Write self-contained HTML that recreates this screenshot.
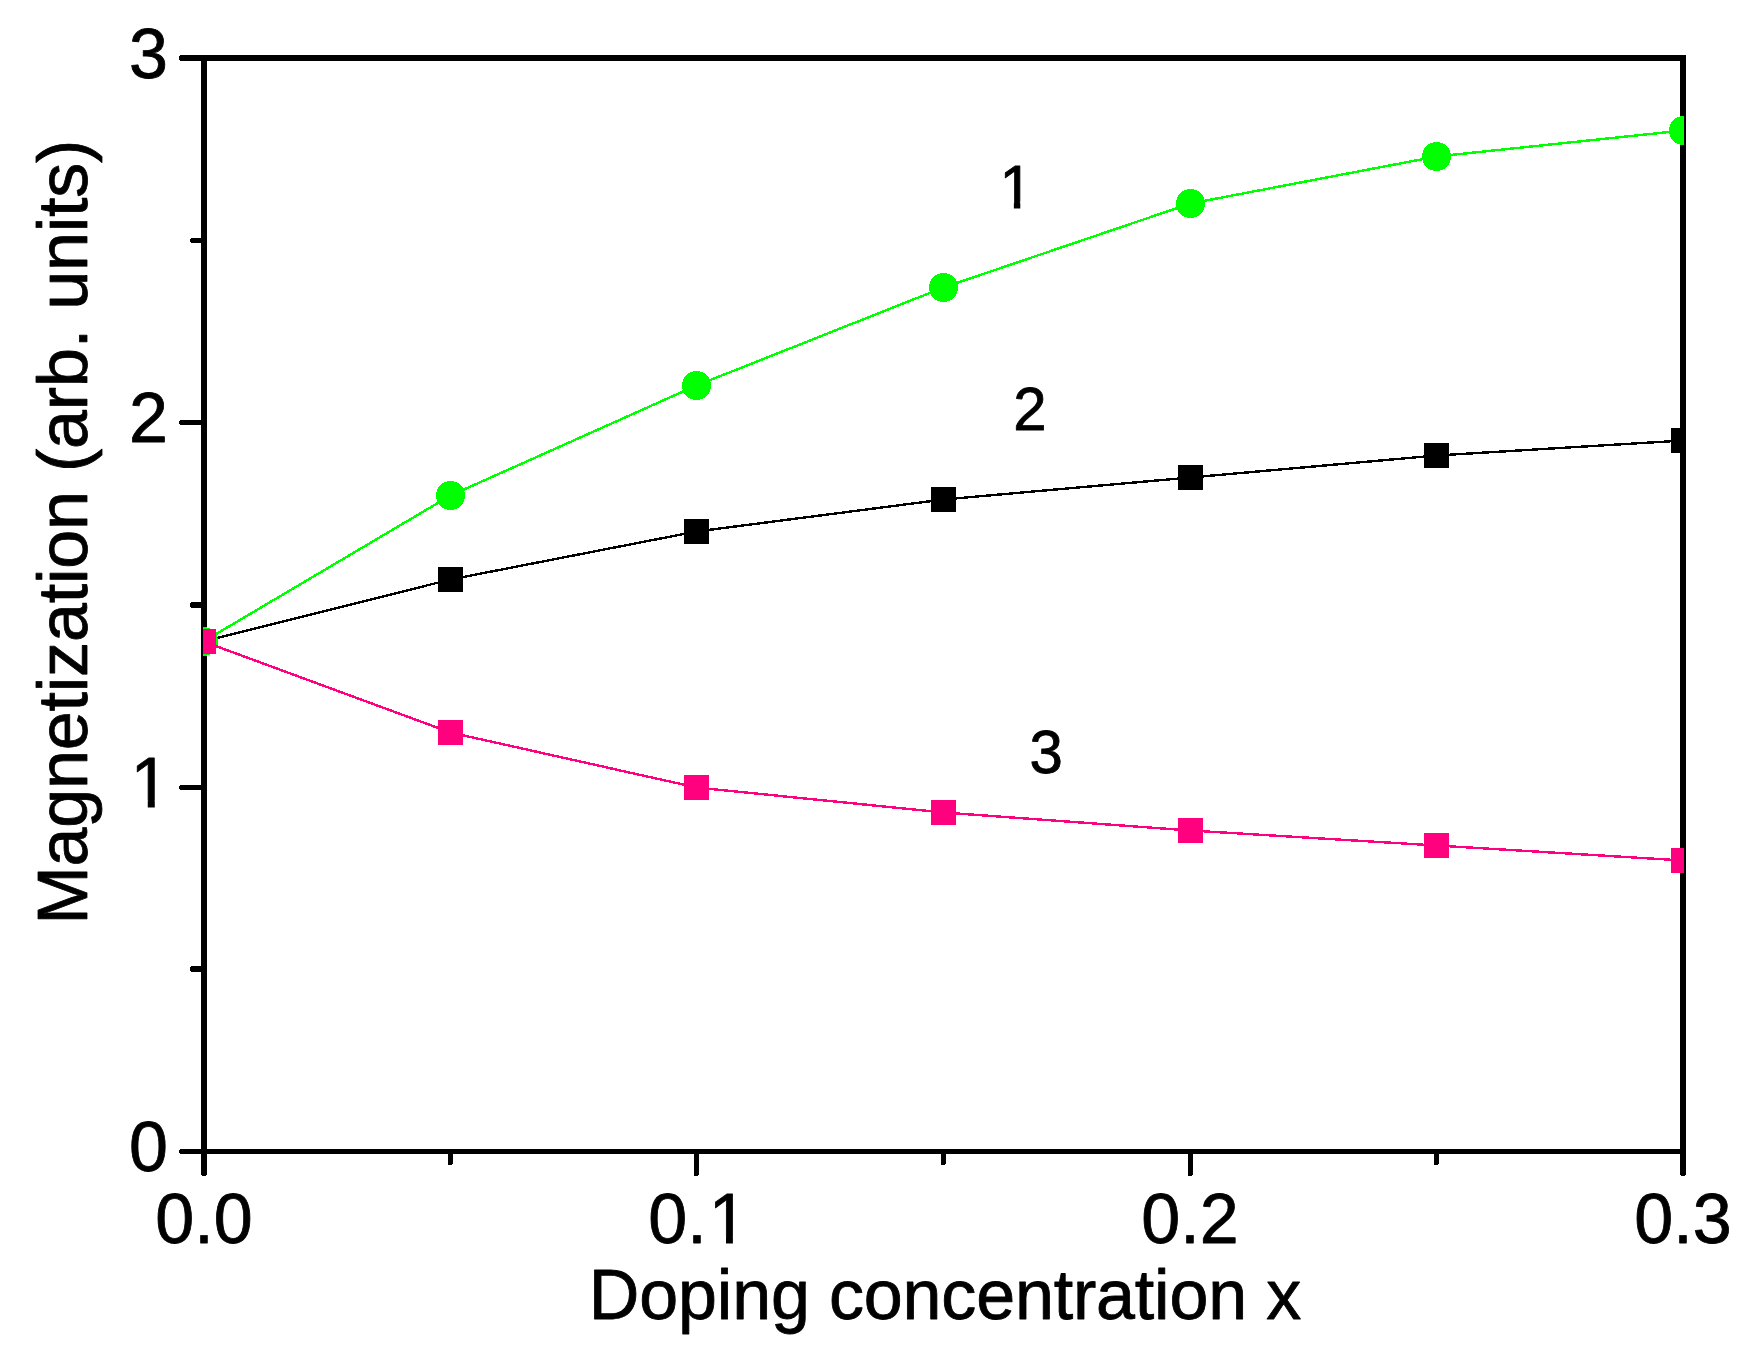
<!DOCTYPE html>
<html lang="en"><head><meta charset="utf-8"><title>Magnetization vs doping concentration</title>
<style>
html,body{margin:0;padding:0;background:#fff;}
body{width:1763px;height:1352px;overflow:hidden;}
svg{display:block;}
text{font-family:"Liberation Sans",sans-serif;fill:#000;stroke:#000;stroke-width:0.8px;stroke-linejoin:round;}
</style></head><body>
<svg width="1763" height="1352" viewBox="0 0 1763 1352">
<rect x="0" y="0" width="1763" height="1352" fill="#ffffff"/>
<defs><clipPath id="plotclip"><rect x="203" y="58" width="1481" height="1094"/></clipPath></defs>
<g fill="#000" shape-rendering="crispEdges">
<rect x="201" y="55" width="6" height="1099"/>
<rect x="1680" y="55" width="6" height="1099"/>
<rect x="201" y="55" width="1485" height="6"/>
<rect x="201" y="1149" width="1485" height="5"/>
</g>
<g fill="#000" shape-rendering="crispEdges">
<rect x="180" y="1149" width="22" height="5"/><rect x="179" y="1150" width="1" height="3"/>
<rect x="180" y="785" width="22" height="5"/><rect x="179" y="786" width="1" height="3"/>
<rect x="180" y="420" width="22" height="5"/><rect x="179" y="421" width="1" height="3"/>
<rect x="180" y="55" width="22" height="6"/><rect x="179" y="56" width="1" height="4"/>
<rect x="191" y="966" width="11" height="6"/><rect x="190" y="967" width="1" height="4"/>
<rect x="191" y="602" width="11" height="6"/><rect x="190" y="603" width="1" height="4"/>
<rect x="191" y="238" width="11" height="5"/><rect x="190" y="239" width="1" height="3"/>
<rect x="201" y="1150" width="6" height="24"/><rect x="201" y="1174" width="6" height="1"/><rect x="202" y="1175" width="4" height="1"/>
<rect x="1680" y="1150" width="6" height="24"/><rect x="1680" y="1174" width="6" height="1"/><rect x="1681" y="1175" width="4" height="1"/>
<rect x="694" y="1150" width="5" height="25"/><rect x="694" y="1175" width="4" height="1"/>
<rect x="1188" y="1150" width="5" height="25"/><rect x="1188" y="1175" width="4" height="1"/>
<rect x="448" y="1150" width="5" height="14"/><rect x="448" y="1164" width="4" height="1"/>
<rect x="941" y="1150" width="5" height="14"/><rect x="941" y="1164" width="4" height="1"/>
<rect x="1434" y="1150" width="5" height="14"/><rect x="1434" y="1164" width="4" height="1"/>
</g>
<g clip-path="url(#plotclip)" shape-rendering="crispEdges">
<polyline points="203.5,641.5 450.5,579.5 696.5,531.5 943.5,499.5 1190.5,477.5 1436.5,455.5 1683.5,440.5" fill="none" stroke="#000000" stroke-width="2.4"/>
<rect x="191.0" y="629.0" width="25" height="25" fill="#000000"/>
<rect x="438.0" y="567.0" width="25" height="25" fill="#000000"/>
<rect x="684.0" y="519.0" width="25" height="25" fill="#000000"/>
<rect x="931.0" y="487.0" width="25" height="25" fill="#000000"/>
<rect x="1178.0" y="465.0" width="25" height="25" fill="#000000"/>
<rect x="1424.0" y="443.0" width="25" height="25" fill="#000000"/>
<rect x="1671.0" y="428.0" width="25" height="25" fill="#000000"/>
<polyline points="203.5,641.5 450.5,495.5 696.5,385.5 943.5,287.5 1190.5,203.5 1436.5,156.5 1683.5,130.5" fill="none" stroke="#00ff00" stroke-width="2.4"/>
<circle cx="203.5" cy="641.5" r="14.5" fill="#00ff00"/>
<circle cx="450.5" cy="495.5" r="14.5" fill="#00ff00"/>
<circle cx="696.5" cy="385.5" r="14.5" fill="#00ff00"/>
<circle cx="943.5" cy="287.5" r="14.5" fill="#00ff00"/>
<circle cx="1190.5" cy="203.5" r="14.5" fill="#00ff00"/>
<circle cx="1436.5" cy="156.5" r="14.5" fill="#00ff00"/>
<circle cx="1683.5" cy="130.5" r="14.5" fill="#00ff00"/>
<polyline points="203.5,641.5 450.5,732.5 696.5,787.5 943.5,812.5 1190.5,830.5 1436.5,845.5 1683.5,860.5" fill="none" stroke="#ff007f" stroke-width="2.4"/>
<rect x="191.0" y="629.0" width="25" height="25" fill="#ff007f"/>
<rect x="438.0" y="720.0" width="25" height="25" fill="#ff007f"/>
<rect x="684.0" y="775.0" width="25" height="25" fill="#ff007f"/>
<rect x="931.0" y="800.0" width="25" height="25" fill="#ff007f"/>
<rect x="1178.0" y="818.0" width="25" height="25" fill="#ff007f"/>
<rect x="1424.0" y="833.0" width="25" height="25" fill="#ff007f"/>
<rect x="1671.0" y="848.0" width="25" height="25" fill="#ff007f"/>
</g>
<text transform="translate(168.00,1171.10) scale(1,1.01)" font-size="70px" text-anchor="end">0</text>
<text transform="translate(169.50,807.10) scale(1,1.01)" font-size="70px" text-anchor="end">1</text>
<text transform="translate(168.00,442.10) scale(1,1.01)" font-size="70px" text-anchor="end">2</text>
<text transform="translate(168.00,77.60) scale(1,1.01)" font-size="70px" text-anchor="end">3</text>
<text transform="translate(204.00,1243.20) scale(1,1.01)" font-size="70px" text-anchor="middle">0.0</text>
<text transform="translate(698.00,1243.20) scale(1,1.01)" font-size="70px" text-anchor="middle">0.<tspan dx="2.0">1</tspan></text>
<text transform="translate(1190.00,1243.20) scale(1,1.01)" font-size="70px" text-anchor="middle">0.2</text>
<text transform="translate(1683.00,1243.20) scale(1,1.01)" font-size="70px" text-anchor="middle">0.3</text>
<text x="945.0" y="1319.1" font-size="70px" text-anchor="middle" letter-spacing="-0.17">Doping concentration x</text>
<text transform="translate(87.3,532.2) rotate(-90)" font-size="70px" text-anchor="middle" letter-spacing="-0.196">Magnetization (arb. units)</text>
<text transform="translate(1016.10,207.90) scale(1,1.03)" font-size="60px" text-anchor="middle">1</text>
<text transform="translate(1030.00,429.80) scale(1,1.03)" font-size="60px" text-anchor="middle">2</text>
<text transform="translate(1046.30,773.00) scale(1,1.03)" font-size="60px" text-anchor="middle">3</text>
<rect x="1000" y="201.5" width="13.87" height="9" fill="#ffffff"/>
<rect x="1020.3" y="201.5" width="13" height="9" fill="#ffffff"/>
<rect x="704" y="1236.5" width="22.0" height="10" fill="#ffffff"/>
<rect x="732.9" y="1236.5" width="16" height="10" fill="#ffffff"/>
<rect x="129" y="800.5" width="18.75" height="10" fill="#ffffff"/>
<rect x="154.77" y="800.5" width="15" height="10" fill="#ffffff"/>
</svg>
</body></html>
